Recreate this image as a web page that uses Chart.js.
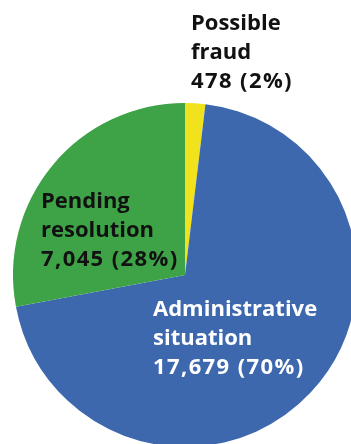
<!DOCTYPE html>
<html>
<head>
<meta charset="utf-8">
<script src="https://cdn.jsdelivr.net/npm/chart.js@4.4.1/dist/chart.umd.min.js"></script>
<style>
  html, body { margin: 0; padding: 0; background: #fff; overflow: hidden; }
  #wrap { position: absolute; left: 0; top: 0; width: 370px; height: 447px; }
</style>
</head>
<body>
<div id="wrap"><canvas id="pie"></canvas></div>
<script>
const categories = ['Possible\nfraud', 'Administrative\nsituation', 'Pending\nresolution'];
const counts = [478, 17679, 7045];
const colors = ['#F0E31E', '#3D68AE', '#3EA347'];
const textColors = ['#111', '#fff', '#111'];
// left edge / first baseline of each label block
const labelAnchors = [[191, 30], [153, 316], [41, 208]];

const total = counts.reduce((a, b) => a + b, 0);

const sliceLabels = {
  id: 'sliceLabels',
  afterDraw(chart) {
    const ctx = chart.ctx;
    ctx.save();
    ctx.font = 'bold 22px "Open Sans", sans-serif';
    ctx.textAlign = 'left';
    ctx.textBaseline = 'alphabetic';
    categories.forEach((name, i) => {
      const pct = Math.round(counts[i] / total * 100);
      const names = name.split('\n');
      const valueLine = counts[i].toLocaleString('en-US') + ' (' + pct + '%)';
      const [x, y] = labelAnchors[i];
      ctx.fillStyle = textColors[i];
      ctx.letterSpacing = '0px';
      names.forEach((line, j) => ctx.fillText(line, x, y + j * 29));
      // figures are set a little wider than the words
      ctx.letterSpacing = '1.4px';
      ctx.fillText(valueLine, x, y + names.length * 29);
    });
    ctx.restore();
  }
};

new Chart(document.getElementById('pie'), {
  type: 'pie',
  data: {
    labels: categories,
    datasets: [{
      data: counts,
      backgroundColor: colors,
      borderWidth: 0,
    }],
  },
  options: {
    responsive: true,
    maintainAspectRatio: false,
    animation: false,
    layout: { padding: { top: 103 } },
    plugins: {
      legend: { display: false },
      tooltip: { enabled: false },
    },
  },
  plugins: [sliceLabels],
});
</script>
</body>
</html>
